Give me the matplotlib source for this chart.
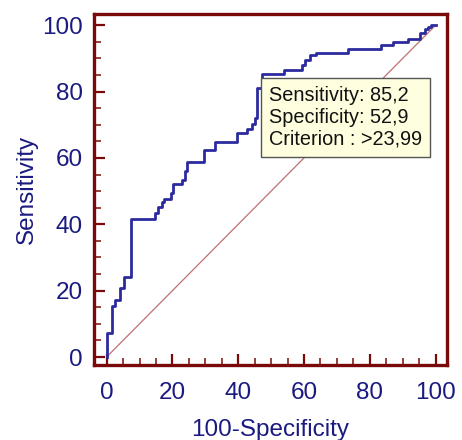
import numpy as np
import matplotlib
matplotlib.use("Agg")
from matplotlib import pyplot as plt
from matplotlib.ticker import MultipleLocator

# ROC staircase corners (100-Specificity, Sensitivity), drawn with steps-pre
fpr = [0, 1.7, 2.7, 4.2, 5.2, 7.3, 14.6, 15.7, 16.7, 17.5, 19.5, 20.2, 23.0,
       23.8, 24.5, 29.5, 33.0, 39.6, 42.6, 44.3, 45.0, 45.7, 47.1, 54.0,
       59.5, 60.3, 61.8, 63.5, 73.4, 83.5, 87.1, 91.6, 95.2, 96.7, 97.7,
       98.7, 100]
tpr = [0, 7.3, 15.4, 17.2, 20.7, 24.0, 41.6, 43.5, 45.3, 46.8, 47.5, 49.5,
       52.0, 53.5, 56.0, 58.8, 62.3, 64.8, 67.6, 68.6, 70.3, 72.0, 81.0,
       85.2, 86.4, 87.9, 89.5, 90.9, 91.6, 92.7, 93.9, 95.0, 96.0, 97.6,
       99.0, 99.5, 100]

box_lines = ["Sensitivity: 85,2", "Specificity: 52,9", "Criterion : >23,99"]

frame_col = "#7a0a0a"
text_col = "#1a1a80"
curve_col = "#2b2b9e"

plt.rcParams["font.family"] = ["Liberation Sans", "DejaVu Sans"]

fig = plt.figure(figsize=(4.62, 4.40), dpi=100)
ax = fig.add_axes([0.203, 0.1705, 0.764, 0.797])

ax.plot([0, 100], [0, 100], color="#c07070", lw=0.9, zorder=2)
ax.plot(fpr, tpr, drawstyle="steps-pre", color=curve_col, lw=2.0, zorder=3)

ax.set_xlim(-3.9, 103.4)
ax.set_ylim(-2.4, 103.3)
ax.xaxis.set_major_locator(MultipleLocator(20))
ax.xaxis.set_minor_locator(MultipleLocator(5))
ax.yaxis.set_major_locator(MultipleLocator(20))
ax.yaxis.set_minor_locator(MultipleLocator(5))

for s in ax.spines.values():
    s.set_color(frame_col)
    s.set_linewidth(2.4)

ax.tick_params(which="major", direction="in", length=8, width=1.6,
               color=frame_col, labelcolor=text_col, labelsize=17.5)
ax.tick_params(which="minor", direction="in", length=5, width=1.1,
               color=frame_col)
ax.tick_params(axis="x", which="major", pad=12)
ax.tick_params(axis="y", which="major", pad=8)

ax.set_xlabel("100-Specificity", color=text_col, fontsize=17.5, labelpad=11)
ax.set_ylabel("Sensitivity", color=text_col, fontsize=17.5, labelpad=3)

ax.text(49.4, 81.8, "\n".join(box_lines), fontsize=14.3, color="#111111",
        va="top", ha="left", linespacing=1.2, zorder=5,
        bbox=dict(boxstyle="square,pad=0.4", facecolor="#ffffe0",
                  edgecolor="#555555", lw=1.0))

fig.savefig("out.png", dpi=100)
